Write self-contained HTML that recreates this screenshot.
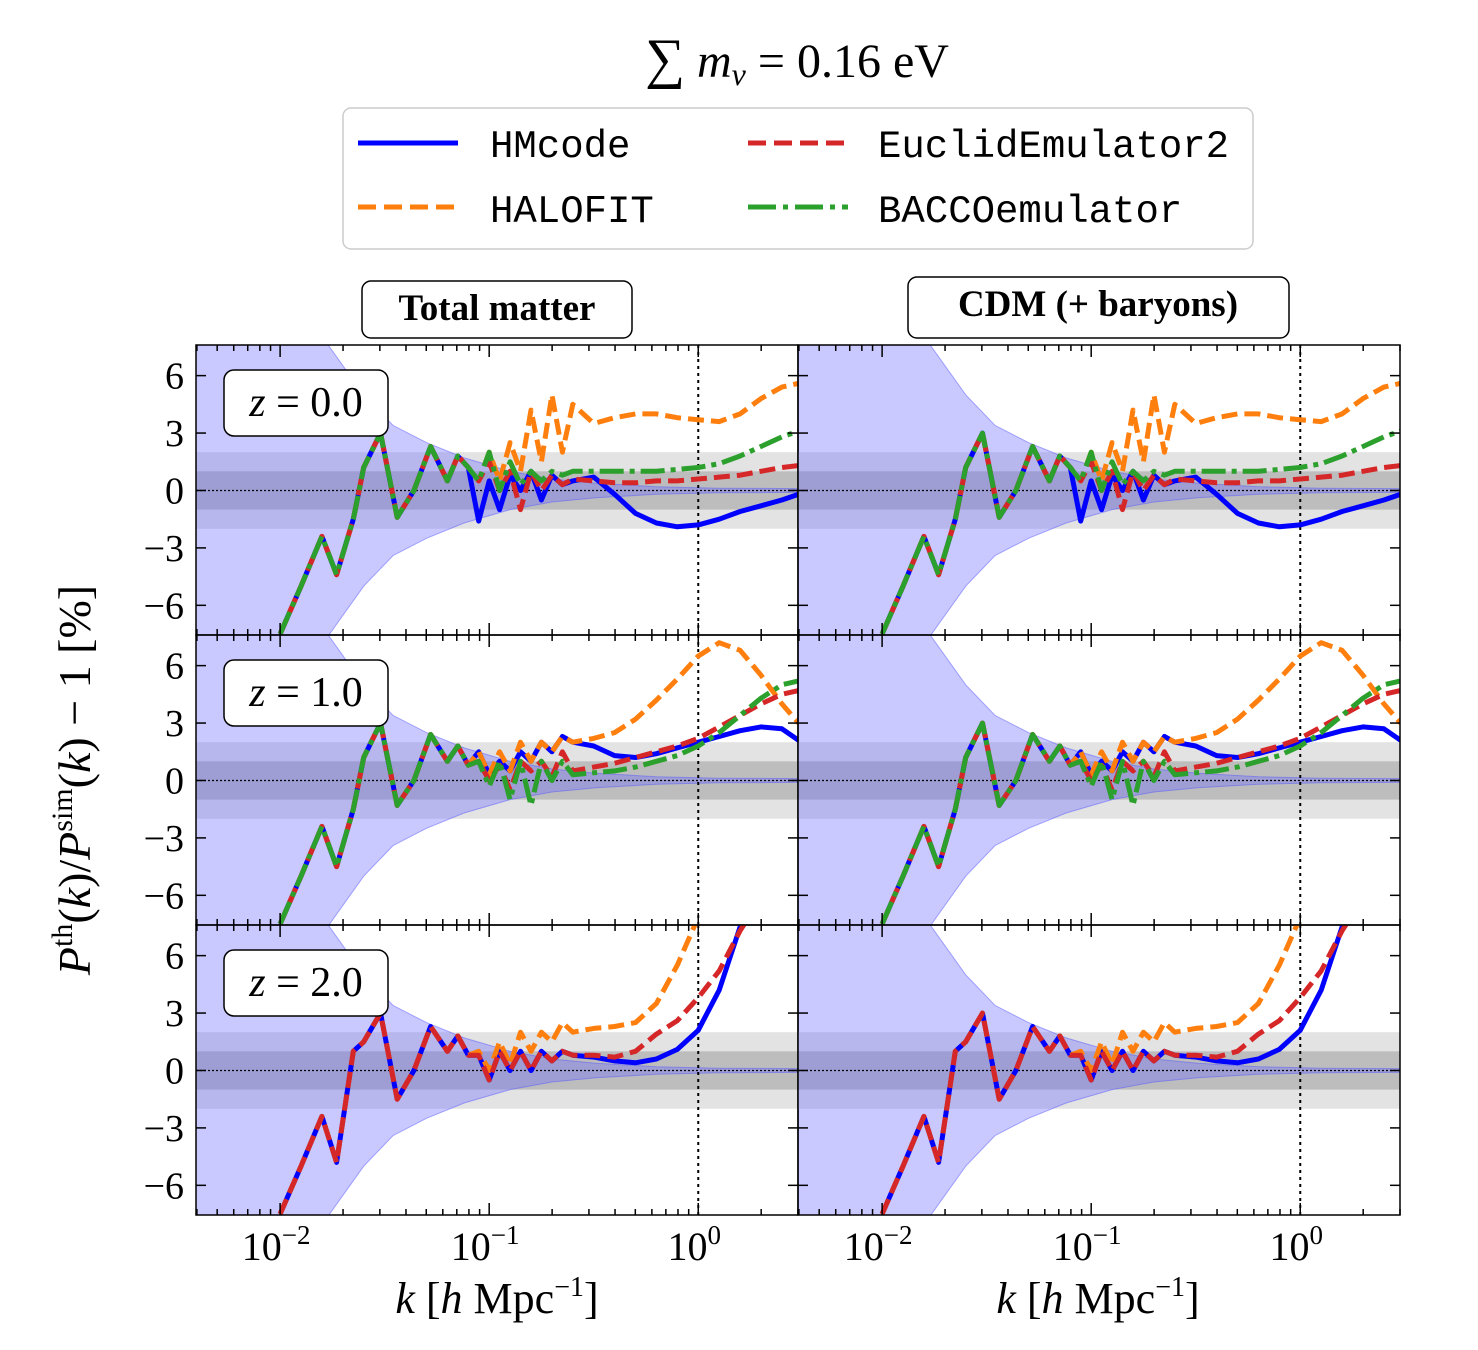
<!DOCTYPE html>
<html><head><meta charset="utf-8">
<style>
html,body{margin:0;background:#fff;overflow:hidden;width:1478px;height:1350px;}
svg{display:block;font-family:"Liberation Serif",serif;}
.mono{font-family:"Liberation Mono",monospace;}
</style></head>
<body>
<svg id="fig" width="1478" height="1350" viewBox="0 0 1478 1350" xmlns="http://www.w3.org/2000/svg">
<text x="797" y="77" text-anchor="middle" font-size="48"><tspan font-size="56">∑</tspan> <tspan font-style="italic">m</tspan><tspan font-style="italic" font-size="32" dy="8">ν</tspan><tspan dy="-8"> = 0.16 eV</tspan></text>
<g>
<rect x="343" y="108" width="910" height="141" rx="8" fill="#fff" stroke="#ccc" stroke-width="1.5"/>
<line x1="358" y1="143" x2="458" y2="143" stroke="#0000ff" stroke-width="5"/>
<text class="mono" x="490" y="157" font-size="39">HMcode</text>
<line x1="358" y1="207" x2="458" y2="207" stroke="#ff7f0e" stroke-width="5" stroke-dasharray="18,8"/>
<text class="mono" x="490" y="222" font-size="39">HALOFIT</text>
<line x1="748" y1="143" x2="848" y2="143" stroke="#d62728" stroke-width="5" stroke-dasharray="18,8"/>
<text class="mono" x="878" y="157" font-size="39">EuclidEmulator2</text>
<line x1="748" y1="207" x2="848" y2="207" stroke="#2ca02c" stroke-width="5" stroke-dasharray="28,7,5,7"/>
<text class="mono" x="878" y="222" font-size="39">BACCOemulator</text>
</g>
<g>
<rect x="362" y="281" width="270" height="57" rx="9" fill="#fff" stroke="#000" stroke-width="1.5"/>
<text x="497" y="320" text-anchor="middle" font-size="37" font-weight="bold">Total matter</text></g>
<g>
<rect x="908" y="277" width="381" height="61" rx="9" fill="#fff" stroke="#000" stroke-width="1.5"/>
<text x="1098" y="316" text-anchor="middle" font-size="37" font-weight="bold">CDM (+ baryons)</text></g>
<text transform="translate(90,780) rotate(-90)" text-anchor="middle" font-size="46"><tspan font-style="italic">P</tspan><tspan font-size="30" dy="-18">th</tspan><tspan dy="18">(</tspan><tspan font-style="italic">k</tspan>)/<tspan font-style="italic">P</tspan><tspan font-size="30" dy="-18">sim</tspan><tspan dy="18">(</tspan><tspan font-style="italic">k</tspan>) − 1 [%]</text>
<text x="497" y="1313" text-anchor="middle" font-size="44"><tspan font-style="italic">k</tspan> [<tspan font-style="italic">h</tspan> Mpc<tspan font-size="28" dy="-17">−1</tspan><tspan dy="17">]</tspan></text>
<text x="1098" y="1313" text-anchor="middle" font-size="44"><tspan font-style="italic">k</tspan> [<tspan font-style="italic">h</tspan> Mpc<tspan font-size="28" dy="-17">−1</tspan><tspan dy="17">]</tspan></text>
</svg>
<script>
// ---- data ----
const logk = [-2.0,-1.9,-1.8,-1.73,-1.65,-1.6,-1.52,-1.44,-1.36,-1.28,-1.2,-1.15,-1.1,-1.05,-1.0,-0.95,-0.9,-0.85,-0.8,-0.75,-0.7,-0.65,-0.6,-0.5,-0.4,-0.3,-0.2,-0.1,0.0,0.1,0.2,0.3,0.4,0.48];
const redshifts = ["0.0","1.0","2.0"];
const lowZ0 = [-7.5,-5,-2.4,-4.4,-1.5,1.2,3,-1.4,0,2.3,0.5,1.8,1.2];
const lowZ1 = [-7.5,-5,-2.4,-4.5,-1.5,1.2,3,-1.3,0,2.4,1,1.8,0.8];
const lowZ2 = [-7.5,-5,-2.4,-4.8,1,1.5,3,-1.5,0,2.3,1,1.8,0.8];
const hmZ0 = [-1.6,0.5,-1,0.8,0,1,-0.5,0.8,0.3,0.5,0.7,-0.2,-1.2,-1.7,-1.9,-1.8,-1.5,-1.1,-0.8,-0.5,-0.2];
const hfZ0 = [0.5,2,0.5,2.5,1,4.2,1.5,5,2,4.5,3.5,3.8,4,4,3.8,3.7,3.6,4,4.8,5.4,5.6];
const eeZ0 = [0.5,1.5,0,1,-1,1,0,0.8,0.3,0.6,0.5,0.4,0.4,0.5,0.5,0.6,0.7,0.8,1,1.2,1.3];
const baZ0 = [0.5,2,0,1.5,0.3,1,0.5,1,0.8,1,1,1,1,1,1.1,1.2,1.4,1.8,2.3,2.8,3.1];
const hmZ1 = [1.5,0.3,1,0.5,1.5,1,2,1.5,2.3,2,1.8,1.3,1.2,1.4,1.7,2,2.3,2.6,2.8,2.7,2.1];
const hfZ1 = [1.5,0.3,1.5,0.5,2,1,2,1.5,2.3,2,2.2,2.5,3.2,4.2,5.3,6.5,7.2,6.8,5.5,4,3];
const eeZ1 = [1,0,0.8,-0.5,1,0.5,1,0.2,1.5,0.5,0.7,0.9,1.2,1.5,1.8,2.2,2.8,3.4,4,4.5,4.7];
const baZ1 = [1,-0.3,1,-1,1,-1.3,1,0,1,0.3,0.4,0.5,0.7,1,1.3,1.8,2.5,3.4,4.3,5,5.2];
const hmZ2 = [0.8,-0.5,1,0,1,0,1,0.5,1,0.8,0.7,0.5,0.4,0.6,1.1,2.1,4.2,7.5,9,9,9];
const hfZ2 = [1,0,1.5,0.3,2,1,2,1.5,2.5,2,2.2,2.3,2.5,3.5,5.5,8,9,9,9,9,9];
const eeZ2 = [0.8,-0.5,1,0,1,0,1,0.5,1,0.8,0.8,0.7,1,1.9,2.6,3.8,5.2,7.3,9,9,9];
const bandLogk = [-2.45,-1.9,-1.77,-1.6,-1.46,-1.3,-1.12,-0.9,-0.7,-0.49,-0.2,0.1,0.5];
const bandHalf = [30,12,7.6,5,3.4,2.5,1.7,1.0,0.6,0.38,0.2,0.12,0.1];
const yTicks = [6,3,0,-3,-6];
const xDecades = [-2,-1,0];

const series = [
 {name:"hmcode", color:"#0000ff", dash:"", data:[lowZ0.concat(hmZ0), lowZ1.concat(hmZ1), lowZ2.concat(hmZ2)]},
 {name:"halofit", color:"#ff7f0e", dash:"16,7", data:[lowZ0.concat(hfZ0), lowZ1.concat(hfZ1), lowZ2.concat(hfZ2)]},
 {name:"euclidemulator2", color:"#d62728", dash:"16,7", data:[lowZ0.concat(eeZ0), lowZ1.concat(eeZ1), lowZ2.concat(eeZ2)]},
 {name:"bacco", color:"#2ca02c", dash:"24,6,5,6", data:[lowZ0.concat(baZ0), lowZ1.concat(baZ1), null]}
];

const NS="http://www.w3.org/2000/svg";
const svg=document.getElementById('fig');
const PW=602, PH=290, X0=196, Y0=345;
const LMIN=Math.log10(0.00396), LMAX=Math.log10(3.0), YMIN=-7.55, YMAX=7.6;
function mk(tag, attrs, parent){const e=document.createElementNS(NS,tag);for(const k in attrs)e.setAttribute(k,attrs[k]);(parent||svg).appendChild(e);return e;}

for(let c=0;c<2;c++){
 for(let r=0;r<3;r++){
  const px=X0+c*PW, py=Y0+r*PH;
  const sx=l=>px+(l-LMIN)/(LMAX-LMIN)*PW;
  const sy=v=>py+(YMAX-v)/(YMAX-YMIN)*PH;
  const g=mk('g',{});
  
  
  const cid='clip'+c+r;
  const cp=mk('clipPath',{id:cid},g);
  mk('rect',{x:px,y:py,width:PW,height:PH},cp);
  const inner=mk('g',{'clip-path':'url(#'+cid+')'},g);
  const b2=mk('rect',{x:px,y:sy(2),width:PW,height:sy(-2)-sy(2),fill:'#e3e3e3'},inner);
  
  
  const b1=mk('rect',{x:px,y:sy(1),width:PW,height:sy(-1)-sy(1),fill:'#bdbdbd'},inner);
  
  
  let d='';
  bandLogk.forEach((l,i)=>{d+=(i?'L':'M')+sx(l).toFixed(1)+','+sy(bandHalf[i]).toFixed(1);});
  for(let i=bandLogk.length-1;i>=0;i--) d+='L'+sx(bandLogk[i]).toFixed(1)+','+sy(-bandHalf[i]).toFixed(1);
  const band=mk('path',{d:d+'Z',fill:'rgba(100,100,255,0.35)',stroke:'rgba(90,90,255,0.5)','stroke-width':1},inner);
  
  
  mk('line',{x1:px,x2:px+PW,y1:sy(0),y2:sy(0),stroke:'#000','stroke-width':1.2,'stroke-dasharray':'2,2'},inner);
  mk('line',{x1:sx(0),x2:sx(0),y1:py,y2:py+PH,stroke:'#000','stroke-width':2,'stroke-dasharray':'3,4'},inner);
  series.forEach(s=>{
   const vals=s.data[r]; if(!vals) return;
   let p='';
   vals.forEach((v,i)=>{p+=(i?'L':'M')+sx(logk[i]).toFixed(1)+','+sy(v).toFixed(1);});
   const path=mk('path',{d:p,fill:'none',stroke:s.color,'stroke-width':5,'stroke-dasharray':s.dash,'stroke-linejoin':'round'},inner);
   
   
  });
  mk('rect',{x:px,y:py,width:PW,height:PH,fill:'none',stroke:'#000','stroke-width':1.5},g);
  for(let dec=-3;dec<=0;dec++){
   for(let m=1;m<10;m++){
    const l=dec+Math.log10(m); if(l<LMIN||l>LMAX) continue;
    const len=m===1?12:6, x=sx(l);
    mk('line',{x1:x,x2:x,y1:py+PH,y2:py+PH-len,stroke:'#000','stroke-width':1.5},g);
    mk('line',{x1:x,x2:x,y1:py,y2:py+len,stroke:'#000','stroke-width':1.5},g);
   }
  }
  yTicks.forEach(t=>{
   mk('line',{x1:px,x2:px+10,y1:sy(t),y2:sy(t),stroke:'#000','stroke-width':1.5},g);
   mk('line',{x1:px+PW,x2:px+PW-10,y1:sy(t),y2:sy(t),stroke:'#000','stroke-width':1.5},g);
   if(c===0){
    const tl=mk('text',{x:px-12,y:sy(t)+13,'text-anchor':'end','font-size':38},g);
    tl.textContent=(t<0?'−':'')+Math.abs(t);
    
    
   }
  });
  if(r===2){
   xDecades.forEach(dd=>{
    const tl=mk('text',{x:sx(dd)-4,y:py+PH+45,'text-anchor':'middle','font-size':40},g);
    tl.textContent='10';
    const sp=mk('tspan',{'font-size':27,dy:-16},tl);
    sp.textContent=dd===0?'0':'−'+Math.abs(dd);
    
    
   });
  }
  if(c===0){
   const zb=mk('g',{},g);
   
   
   mk('rect',{x:224,y:py+25,width:164,height:66,rx:10,fill:'#fff',stroke:'#000','stroke-width':1.5},zb);
   const zt=mk('text',{x:306,y:py+71,'text-anchor':'middle','font-size':42},zb);
   const zi=mk('tspan',{'font-style':'italic'},zt); zi.textContent='z';
   const zr=mk('tspan',{},zt); zr.textContent=' = '+redshifts[r];
  }
 }
}
</script>
</body></html>
